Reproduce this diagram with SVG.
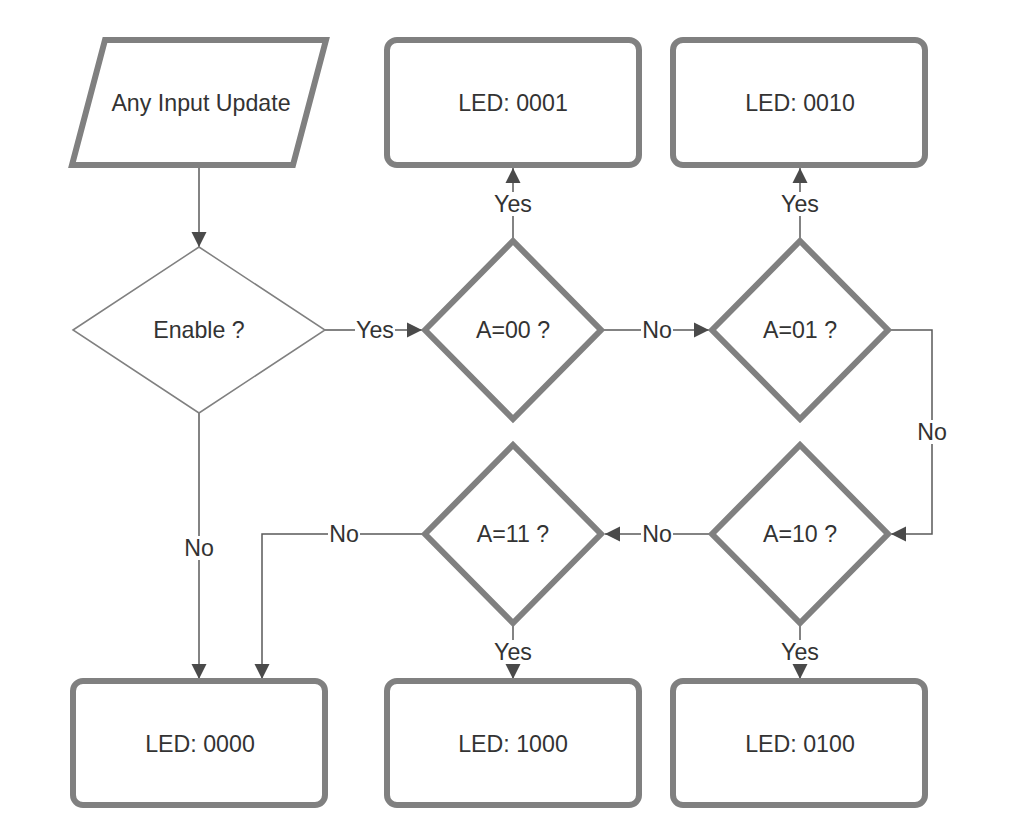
<svg xmlns="http://www.w3.org/2000/svg" width="1012" height="840" viewBox="0 0 1012 840">
<defs>
<style>
.node{fill:#fff;stroke:#808080;stroke-width:6;stroke-linejoin:miter}
.thin{fill:#fff;stroke:#808080;stroke-width:1.5}
.t{font-family:"Liberation Sans",Arial,sans-serif;font-size:23.2px;fill:#333;text-anchor:middle}
.c{fill:none;stroke:#5a5a5a;stroke-width:1.5}
.lb{fill:#fff}
</style>
<marker id="arr" markerUnits="userSpaceOnUse" markerWidth="16" markerHeight="16" refX="15" refY="8" orient="auto">
<path d="M0,0.5 L15,8 L0,15.5 z" fill="#4a4a4a"/>
</marker>
</defs>
<rect width="1012" height="840" fill="#fff"/>
<g id="connectors">
<path class="c" d="M199,168 V247" marker-end="url(#arr)"/>
<path class="c" d="M325,330 H422" marker-end="url(#arr)"/>
<path class="c" d="M199,413 V679" marker-end="url(#arr)"/>
<path class="c" d="M513,241 V168" marker-end="url(#arr)"/>
<path class="c" d="M601,330 H709" marker-end="url(#arr)"/>
<path class="c" d="M800,241 V168" marker-end="url(#arr)"/>
<path class="c" d="M888,330 H932 V534 H891" marker-end="url(#arr)"/>
<path class="c" d="M712,534 H605" marker-end="url(#arr)"/>
<path class="c" d="M425,534 H262 V679" marker-end="url(#arr)"/>
<path class="c" d="M513,623 V679" marker-end="url(#arr)"/>
<path class="c" d="M800,623 V679" marker-end="url(#arr)"/>
<rect class="lb" x="355" y="318" width="40" height="24"/><text class="t" x="375" y="338">Yes</text>
<rect class="lb" x="183" y="536" width="32" height="24"/><text class="t" x="199" y="556">No</text>
<rect class="lb" x="493" y="192" width="40" height="24"/><text class="t" x="513" y="212">Yes</text>
<rect class="lb" x="641" y="318" width="32" height="24"/><text class="t" x="657" y="338">No</text>
<rect class="lb" x="780" y="192" width="40" height="24"/><text class="t" x="800" y="212">Yes</text>
<rect class="lb" x="916" y="420" width="32" height="24"/><text class="t" x="932" y="440">No</text>
<rect class="lb" x="641" y="522" width="32" height="24"/><text class="t" x="657" y="542">No</text>
<rect class="lb" x="328" y="522" width="32" height="24"/><text class="t" x="344" y="542">No</text>
<rect class="lb" x="493" y="640" width="40" height="24"/><text class="t" x="513" y="660">Yes</text>
<rect class="lb" x="780" y="640" width="40" height="24"/><text class="t" x="800" y="660">Yes</text>
</g>
<g id="input"><polygon class="node" points="105,40 326,40 293,165 72,165"/><text class="t" x="201" y="111">Any Input Update</text></g>
<g id="enable"><polygon class="thin" points="73,330 199,247 325,330 199,413"/><text class="t" x="199" y="338">Enable ?</text></g>
<g id="a00"><polygon class="node" points="425,330 513,241 601,330 513,419"/><text class="t" x="513" y="338">A=00 ?</text></g>
<g id="a01"><polygon class="node" points="712,330 800,241 888,330 800,419"/><text class="t" x="800" y="338">A=01 ?</text></g>
<g id="a10"><polygon class="node" points="712,534 800,445 888,534 800,623"/><text class="t" x="800" y="542">A=10 ?</text></g>
<g id="a11"><polygon class="node" points="425,534 513,445 601,534 513,623"/><text class="t" x="513" y="542">A=11 ?</text></g>
<g id="led0001"><rect class="node" x="387" y="40" width="252" height="125" rx="10"/><text class="t" x="513" y="111">LED: 0001</text></g>
<g id="led0010"><rect class="node" x="673" y="40" width="252" height="125" rx="10"/><text class="t" x="800" y="111">LED: 0010</text></g>
<g id="led0000"><rect class="node" x="73" y="681" width="252" height="124" rx="10"/><text class="t" x="200" y="752">LED: 0000</text></g>
<g id="led1000"><rect class="node" x="387" y="681" width="252" height="124" rx="10"/><text class="t" x="513" y="752">LED: 1000</text></g>
<g id="led0100"><rect class="node" x="673" y="681" width="252" height="124" rx="10"/><text class="t" x="800" y="752">LED: 0100</text></g>
</svg>
